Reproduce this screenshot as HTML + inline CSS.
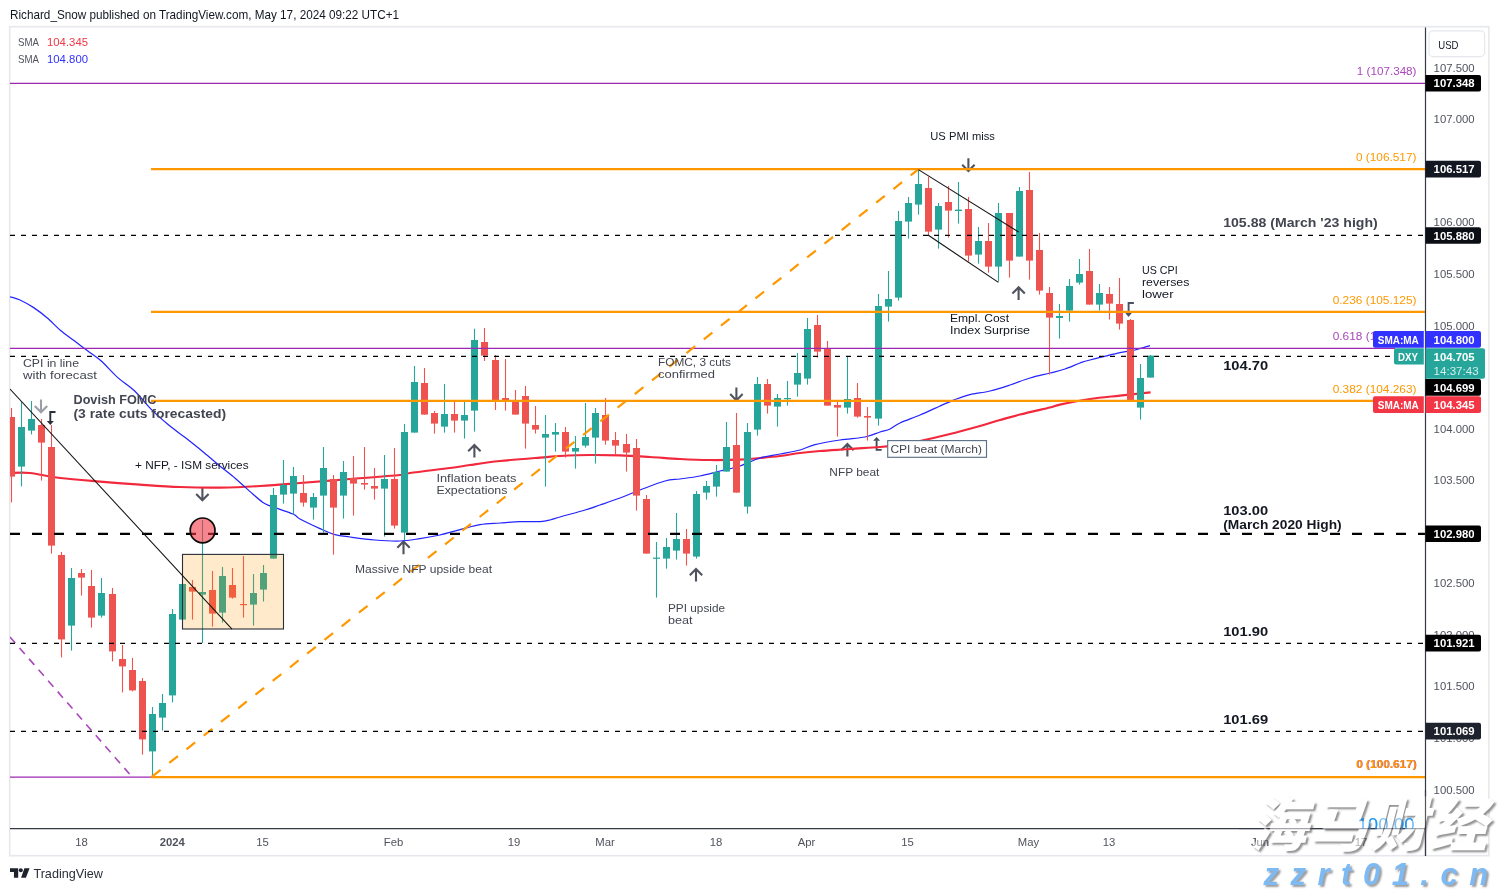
<!DOCTYPE html>
<html lang="en"><head><meta charset="utf-8"><title>DXY chart - TradingView</title>
<style>html,body{margin:0;padding:0;background:#fff;overflow:hidden}body{width:1499px;height:891px;position:relative}svg{display:block;will-change:transform;font-family:"Liberation Sans",sans-serif}text{white-space:pre}.wm{position:absolute;white-space:nowrap;font-style:italic;font-weight:900;line-height:1;font-family:"Liberation Sans","Noto Sans CJK SC",sans-serif}.wm1{left:1249px;top:796.5px;font-size:58px;color:#fff;letter-spacing:2px;text-shadow:2px 2px 2px rgba(95,95,95,.68)}.wm2{left:1263.5px;top:859px;font-size:31px;font-weight:bold;color:#7db9f2;letter-spacing:11.5px;text-shadow:2px 2px 2px rgba(90,90,90,.6)}</style>
</head><body>
<svg width="1499" height="891" viewBox="0 0 1499 891" style="position:absolute;left:0;top:0">
<defs><clipPath id="pane"><rect x="10" y="27.5" width="1415.5" height="801"/></clipPath><clipPath id="axisclip"><rect x="1425" y="27.5" width="64" height="801"/></clipPath></defs>
<rect width="1499" height="891" fill="#fff"/>
<rect x="9.7" y="26.7" width="1479.2" height="829" fill="none" stroke="#e6e8ee" stroke-width="1.6"/>
<g clip-path="url(#pane)">
<path d="M41 399.4 V412.0 M34.8 405.9 L41 412.2 L47.2 405.9" fill="none" stroke="#9b9ea6" stroke-width="2.1" stroke-linecap="butt" stroke-linejoin="miter"/>
<path d="M202.4 487.5 V500.1 M196.20000000000002 494.0 L202.4 500.3 L208.6 494.0" fill="none" stroke="#50535e" stroke-width="2.1" stroke-linecap="butt" stroke-linejoin="miter"/>
<path d="M474.4 457.6 V445 M468.2 451.2 L474.4 444.9 L480.59999999999997 451.2" fill="none" stroke="#50535e" stroke-width="2.1" stroke-linecap="butt" stroke-linejoin="miter"/>
<path d="M403.5 554.2 V541.6 M397.3 547.8000000000001 L403.5 541.5 L409.7 547.8000000000001" fill="none" stroke="#50535e" stroke-width="2.1" stroke-linecap="butt" stroke-linejoin="miter"/>
<path d="M736.4 387.6 V400.20000000000005 M730.1999999999999 394.1 L736.4 400.40000000000003 L742.6 394.1" fill="none" stroke="#50535e" stroke-width="2.1" stroke-linecap="butt" stroke-linejoin="miter"/>
<path d="M696 581.6 V569 M689.8 575.2 L696 568.9 L702.2 575.2" fill="none" stroke="#50535e" stroke-width="2.1" stroke-linecap="butt" stroke-linejoin="miter"/>
<path d="M847.4 456.6 V444 M841.1999999999999 450.2 L847.4 443.9 L853.6 450.2" fill="none" stroke="#50535e" stroke-width="2.1" stroke-linecap="butt" stroke-linejoin="miter"/>
<path d="M968.4 158.2 V170.79999999999998 M962.1999999999999 164.7 L968.4 171.0 L974.6 164.7" fill="none" stroke="#50535e" stroke-width="2.1" stroke-linecap="butt" stroke-linejoin="miter"/>
<path d="M1018.6 300.0 V287.4 M1012.4 293.59999999999997 L1018.6 287.29999999999995 L1024.8 293.59999999999997" fill="none" stroke="#50535e" stroke-width="2.1" stroke-linecap="butt" stroke-linejoin="miter"/>
<path d="M55.5 412 H50.3 V421.4" fill="none" stroke="#2a2e39" stroke-width="1.9"/><path d="M46.8 421 H53.8 L50.3 424.9 Z" fill="#2a2e39"/>
<path d="M881.7 449.9 H876.6 V440.4" fill="none" stroke="#434a58" stroke-width="1.9"/><path d="M873.1 440.8 H880.1 L876.6 437 Z" fill="#434a58"/>
<path d="M10.0 473.0 C13.3 473.0 21.7 472.2 30.0 473.0 C38.3 473.8 48.3 476.6 60.0 478.0 C71.7 479.4 86.7 480.5 100.0 481.6 C113.3 482.7 126.7 483.7 140.0 484.6 C153.3 485.5 166.7 486.5 180.0 487.0 C193.3 487.5 206.7 487.8 220.0 487.6 C233.3 487.4 246.7 486.8 260.0 486.0 C273.3 485.2 285.0 484.2 300.0 483.0 C315.0 481.8 333.3 480.3 350.0 479.0 C366.7 477.7 390.0 476.0 400.0 475.0 C410.0 474.0 401.7 474.2 410.0 473.0 C418.3 471.8 440.0 469.3 450.0 468.0 C460.0 466.7 461.7 466.2 470.0 465.0 C478.3 463.8 488.3 462.2 500.0 461.0 C511.7 459.8 530.0 458.4 540.0 457.6 C550.0 456.8 551.7 456.4 560.0 456.0 C568.3 455.6 580.0 455.1 590.0 455.0 C600.0 454.9 610.0 455.1 620.0 455.4 C630.0 455.7 640.0 456.4 650.0 457.0 C660.0 457.6 670.0 458.5 680.0 459.0 C690.0 459.5 700.0 459.9 710.0 460.0 C720.0 460.1 731.7 459.9 740.0 459.6 C748.3 459.3 753.3 458.6 760.0 458.0 C766.7 457.4 773.3 456.8 780.0 456.0 C786.7 455.2 793.3 453.8 800.0 453.0 C806.7 452.2 811.7 451.7 820.0 451.0 C828.3 450.3 840.0 449.7 850.0 449.0 C860.0 448.3 871.7 447.7 880.0 447.0 C888.3 446.3 893.3 445.6 900.0 444.6 C906.7 443.6 911.7 442.8 920.0 441.0 C928.3 439.2 940.0 436.5 950.0 434.0 C960.0 431.5 971.7 428.3 980.0 426.0 C988.3 423.7 993.3 421.9 1000.0 420.0 C1006.7 418.1 1011.7 416.6 1020.0 414.5 C1028.3 412.4 1043.3 409.1 1050.0 407.5 C1056.7 405.9 1053.3 406.0 1060.0 404.6 C1066.7 403.2 1080.0 400.5 1090.0 399.0 C1100.0 397.5 1109.9 396.7 1120.0 395.6 C1130.1 394.5 1145.5 392.9 1150.6 392.4" fill="none" stroke="#f2283c" stroke-width="2.2" stroke-linejoin="round"/>
<path d="M10.0 296.8 C11.7 297.3 16.1 298.2 20.0 300.0 C23.9 301.8 29.2 304.7 33.7 307.6 C38.2 310.6 42.5 313.9 47.0 317.7 C51.5 321.5 56.1 326.7 60.6 330.5 C65.1 334.3 69.5 337.2 74.0 340.6 C78.5 344.0 83.0 347.3 87.5 350.7 C92.0 354.1 96.0 356.3 101.0 360.8 C106.0 365.3 112.2 372.6 117.8 377.6 C123.4 382.6 129.1 385.7 134.7 391.0 C140.3 396.3 145.9 404.0 151.5 409.6 C157.1 415.2 162.8 420.1 168.4 424.8 C174.0 429.5 179.6 433.2 185.2 437.6 C190.8 442.0 196.4 446.4 202.0 451.0 C207.6 455.6 213.3 460.6 218.9 465.2 C224.5 469.8 230.1 473.9 235.7 478.7 C241.3 483.5 248.0 489.9 252.5 493.8 C257.0 497.7 259.8 500.2 262.6 502.2 C265.4 504.2 264.3 503.6 269.4 505.6 C274.5 507.6 287.9 511.8 293.0 514.0 C298.1 516.2 295.5 516.6 300.0 519.0 C304.5 521.4 314.2 526.0 320.0 528.6 C325.8 531.2 330.0 533.2 335.0 534.6 C340.0 536.0 343.3 536.1 350.0 537.0 C356.7 537.9 366.7 539.3 375.0 540.0 C383.3 540.7 392.5 541.2 400.0 541.0 C407.5 540.8 413.3 539.6 420.0 538.6 C426.7 537.6 433.3 536.5 440.0 535.0 C446.7 533.5 453.3 531.3 460.0 529.6 C466.7 527.9 473.3 525.7 480.0 524.6 C486.7 523.5 493.3 523.5 500.0 523.0 C506.7 522.5 513.3 521.8 520.0 521.6 C526.7 521.4 535.0 521.9 540.0 521.6 C545.0 521.3 546.7 520.8 550.0 520.0 C553.3 519.2 554.2 518.7 560.0 517.0 C565.8 515.3 578.3 512.0 585.0 510.0 C591.7 508.0 594.2 507.0 600.0 505.0 C605.8 503.0 613.3 500.5 620.0 498.0 C626.7 495.5 632.5 492.8 640.0 490.0 C647.5 487.2 658.3 482.8 665.0 481.0 C671.7 479.2 674.2 479.8 680.0 479.0 C685.8 478.2 693.3 477.3 700.0 476.0 C706.7 474.7 713.3 472.7 720.0 471.0 C726.7 469.3 733.3 468.2 740.0 466.0 C746.7 463.8 753.3 460.0 760.0 458.0 C766.7 456.0 773.3 455.3 780.0 454.0 C786.7 452.7 794.2 451.6 800.0 450.0 C805.8 448.4 808.3 446.3 815.0 444.6 C821.7 442.9 831.7 441.3 840.0 440.0 C848.3 438.7 858.3 438.3 865.0 437.0 C871.7 435.7 875.8 433.3 880.0 432.0 C884.2 430.7 886.7 430.5 890.0 429.0 C893.3 427.5 895.0 425.3 900.0 423.0 C905.0 420.7 913.3 417.8 920.0 415.0 C926.7 412.2 934.2 408.6 940.0 406.0 C945.8 403.4 950.0 401.5 955.0 399.6 C960.0 397.7 964.2 396.0 970.0 394.6 C975.8 393.2 983.3 392.6 990.0 391.0 C996.7 389.4 1003.3 387.2 1010.0 385.0 C1016.7 382.8 1023.3 380.0 1030.0 378.0 C1036.7 376.0 1044.2 374.5 1050.0 373.0 C1055.8 371.5 1060.0 370.7 1065.0 369.0 C1070.0 367.3 1075.8 364.5 1080.0 363.0 C1084.2 361.5 1083.3 361.7 1090.0 360.0 C1096.7 358.3 1112.5 354.3 1120.0 352.6 C1127.5 350.9 1130.0 351.2 1135.0 350.0 C1140.0 348.8 1147.5 346.3 1150.0 345.6" fill="none" stroke="#2424ff" stroke-width="1.25" stroke-linejoin="round"/>
<rect x="10.95" y="408" width="1.1" height="94.4" fill="#ef5350"/>
<rect x="8.00" y="417" width="7" height="59.6" fill="#ef5350"/>
<rect x="20.95" y="402" width="1.1" height="84.4" fill="#26a69a"/>
<rect x="18.00" y="427" width="7" height="39.6" fill="#26a69a"/>
<rect x="30.95" y="401" width="1.1" height="33.4" fill="#26a69a"/>
<rect x="28.00" y="419" width="7" height="11.6" fill="#26a69a"/>
<rect x="40.95" y="419" width="1.1" height="61.6" fill="#ef5350"/>
<rect x="38.00" y="425" width="7" height="17.6" fill="#ef5350"/>
<rect x="50.95" y="425" width="1.1" height="128.6" fill="#ef5350"/>
<rect x="48.00" y="447" width="7" height="98.6" fill="#ef5350"/>
<rect x="60.95" y="552" width="1.1" height="105.4" fill="#ef5350"/>
<rect x="58.00" y="555" width="7" height="84.4" fill="#ef5350"/>
<rect x="70.95" y="568" width="1.1" height="82.6" fill="#26a69a"/>
<rect x="68.00" y="578" width="7" height="47.6" fill="#26a69a"/>
<rect x="80.95" y="569" width="1.1" height="26.6" fill="#ef5350"/>
<rect x="78.00" y="573" width="7" height="4.6" fill="#ef5350"/>
<rect x="90.95" y="570" width="1.1" height="57.6" fill="#ef5350"/>
<rect x="88.00" y="586" width="7" height="31.6" fill="#ef5350"/>
<rect x="100.95" y="578" width="1.1" height="39.6" fill="#26a69a"/>
<rect x="98.00" y="593" width="7" height="22.6" fill="#26a69a"/>
<rect x="111.95" y="588" width="1.1" height="73.4" fill="#ef5350"/>
<rect x="109.00" y="594" width="7" height="57.4" fill="#ef5350"/>
<rect x="121.95" y="645" width="1.1" height="47.4" fill="#ef5350"/>
<rect x="119.00" y="659" width="7" height="7.4" fill="#ef5350"/>
<rect x="131.95" y="658" width="1.1" height="33.4" fill="#ef5350"/>
<rect x="129.00" y="670" width="7" height="20.4" fill="#ef5350"/>
<rect x="141.95" y="678" width="1.1" height="76.6" fill="#ef5350"/>
<rect x="139.00" y="681" width="7" height="58.4" fill="#ef5350"/>
<rect x="151.95" y="707" width="1.1" height="69.6" fill="#26a69a"/>
<rect x="149.00" y="714" width="7" height="37.4" fill="#26a69a"/>
<rect x="161.95" y="694" width="1.1" height="36.6" fill="#26a69a"/>
<rect x="159.00" y="703" width="7" height="14.6" fill="#26a69a"/>
<rect x="171.95" y="609" width="1.1" height="93.4" fill="#26a69a"/>
<rect x="169.00" y="614" width="7" height="81.4" fill="#26a69a"/>
<rect x="181.95" y="584" width="1.1" height="35.6" fill="#26a69a"/>
<rect x="179.00" y="584" width="7" height="35.6" fill="#26a69a"/>
<rect x="191.95" y="580" width="1.1" height="39.6" fill="#ef5350"/>
<rect x="189.00" y="587" width="7" height="4.6" fill="#ef5350"/>
<rect x="201.95" y="520" width="1.1" height="123.0" fill="#26a69a"/>
<rect x="199.00" y="592" width="7" height="2.6" fill="#26a69a"/>
<rect x="211.95" y="571" width="1.1" height="55.6" fill="#ef5350"/>
<rect x="209.00" y="590" width="7" height="23.6" fill="#ef5350"/>
<rect x="221.95" y="567" width="1.1" height="55.6" fill="#26a69a"/>
<rect x="219.00" y="576" width="7" height="36.6" fill="#26a69a"/>
<rect x="231.95" y="568" width="1.1" height="30.6" fill="#ef5350"/>
<rect x="229.00" y="585" width="7" height="12.6" fill="#ef5350"/>
<rect x="242.95" y="556" width="1.1" height="61.6" fill="#ef5350"/>
<rect x="240.00" y="604" width="7" height="1.2" fill="#ef5350"/>
<rect x="252.95" y="574" width="1.1" height="51.6" fill="#26a69a"/>
<rect x="250.00" y="593" width="7" height="11.6" fill="#26a69a"/>
<rect x="262.95" y="565" width="1.1" height="36.6" fill="#26a69a"/>
<rect x="260.00" y="573" width="7" height="16.6" fill="#26a69a"/>
<rect x="272.95" y="488" width="1.1" height="70.6" fill="#26a69a"/>
<rect x="270.00" y="495" width="7" height="63.6" fill="#26a69a"/>
<rect x="282.95" y="460" width="1.1" height="43.6" fill="#26a69a"/>
<rect x="280.00" y="485" width="7" height="9.6" fill="#26a69a"/>
<rect x="292.95" y="467" width="1.1" height="47.6" fill="#26a69a"/>
<rect x="290.00" y="476" width="7" height="17.6" fill="#26a69a"/>
<rect x="302.95" y="475" width="1.1" height="31.6" fill="#ef5350"/>
<rect x="300.00" y="493" width="7" height="9.6" fill="#ef5350"/>
<rect x="312.95" y="493" width="1.1" height="26.6" fill="#26a69a"/>
<rect x="310.00" y="497" width="7" height="10.6" fill="#26a69a"/>
<rect x="322.95" y="447" width="1.1" height="85.6" fill="#26a69a"/>
<rect x="320.00" y="468" width="7" height="27.6" fill="#26a69a"/>
<rect x="332.95" y="475" width="1.1" height="79.6" fill="#ef5350"/>
<rect x="330.00" y="479" width="7" height="28.6" fill="#ef5350"/>
<rect x="342.95" y="461" width="1.1" height="57.6" fill="#26a69a"/>
<rect x="340.00" y="472" width="7" height="23.6" fill="#26a69a"/>
<rect x="352.95" y="456" width="1.1" height="59.6" fill="#ef5350"/>
<rect x="350.00" y="478" width="7" height="5.6" fill="#ef5350"/>
<rect x="363.95" y="447" width="1.1" height="42.6" fill="#ef5350"/>
<rect x="361.00" y="483" width="7" height="1.6" fill="#ef5350"/>
<rect x="373.95" y="468" width="1.1" height="31.6" fill="#ef5350"/>
<rect x="371.00" y="486" width="7" height="2.6" fill="#ef5350"/>
<rect x="383.95" y="455" width="1.1" height="81.6" fill="#26a69a"/>
<rect x="381.00" y="479" width="7" height="9.6" fill="#26a69a"/>
<rect x="393.95" y="448" width="1.1" height="80.6" fill="#ef5350"/>
<rect x="391.00" y="479" width="7" height="46.6" fill="#ef5350"/>
<rect x="403.95" y="424" width="1.1" height="116.0" fill="#26a69a"/>
<rect x="401.00" y="432" width="7" height="100.6" fill="#26a69a"/>
<rect x="413.95" y="366" width="1.1" height="66.6" fill="#26a69a"/>
<rect x="411.00" y="382" width="7" height="50.6" fill="#26a69a"/>
<rect x="423.95" y="368" width="1.1" height="46.6" fill="#ef5350"/>
<rect x="421.00" y="383" width="7" height="31.6" fill="#ef5350"/>
<rect x="433.95" y="411" width="1.1" height="22.6" fill="#ef5350"/>
<rect x="431.00" y="413" width="7" height="10.6" fill="#ef5350"/>
<rect x="443.95" y="384" width="1.1" height="48.6" fill="#26a69a"/>
<rect x="441.00" y="414" width="7" height="12.6" fill="#26a69a"/>
<rect x="453.95" y="402" width="1.1" height="30.6" fill="#ef5350"/>
<rect x="451.00" y="414" width="7" height="6.6" fill="#ef5350"/>
<rect x="463.95" y="402" width="1.1" height="36.6" fill="#26a69a"/>
<rect x="461.00" y="415" width="7" height="5.6" fill="#26a69a"/>
<rect x="473.95" y="328.7" width="1.1" height="102.9" fill="#26a69a"/>
<rect x="471.00" y="340" width="7" height="70.6" fill="#26a69a"/>
<rect x="483.95" y="328" width="1.1" height="33.0" fill="#ef5350"/>
<rect x="481.00" y="342" width="7" height="13.6" fill="#ef5350"/>
<rect x="494.95" y="355" width="1.1" height="55.0" fill="#ef5350"/>
<rect x="492.00" y="360" width="7" height="40.4" fill="#ef5350"/>
<rect x="504.95" y="359" width="1.1" height="51.6" fill="#ef5350"/>
<rect x="502.00" y="398" width="7" height="2.0" fill="#ef5350"/>
<rect x="514.95" y="390" width="1.1" height="24.6" fill="#ef5350"/>
<rect x="512.00" y="401" width="7" height="13.6" fill="#ef5350"/>
<rect x="524.95" y="386" width="1.1" height="62.6" fill="#ef5350"/>
<rect x="522.00" y="396" width="7" height="27.6" fill="#ef5350"/>
<rect x="534.95" y="406" width="1.1" height="27.6" fill="#ef5350"/>
<rect x="532.00" y="425" width="7" height="4.6" fill="#ef5350"/>
<rect x="544.95" y="415" width="1.1" height="71.6" fill="#26a69a"/>
<rect x="542.00" y="434" width="7" height="3.6" fill="#26a69a"/>
<rect x="554.95" y="423" width="1.1" height="28.6" fill="#26a69a"/>
<rect x="552.00" y="432" width="7" height="2.6" fill="#26a69a"/>
<rect x="564.95" y="427" width="1.1" height="30.6" fill="#ef5350"/>
<rect x="562.00" y="432" width="7" height="19.6" fill="#ef5350"/>
<rect x="574.95" y="436" width="1.1" height="32.6" fill="#26a69a"/>
<rect x="572.00" y="448" width="7" height="3.6" fill="#26a69a"/>
<rect x="584.95" y="403" width="1.1" height="44.6" fill="#26a69a"/>
<rect x="582.00" y="437" width="7" height="8.6" fill="#26a69a"/>
<rect x="594.95" y="408" width="1.1" height="55.6" fill="#26a69a"/>
<rect x="592.00" y="413" width="7" height="24.6" fill="#26a69a"/>
<rect x="604.95" y="398" width="1.1" height="46.6" fill="#ef5350"/>
<rect x="602.00" y="415" width="7" height="25.6" fill="#ef5350"/>
<rect x="614.95" y="432" width="1.1" height="22.6" fill="#ef5350"/>
<rect x="612.00" y="440" width="7" height="5.6" fill="#ef5350"/>
<rect x="625.95" y="434" width="1.1" height="37.6" fill="#ef5350"/>
<rect x="623.00" y="444" width="7" height="8.6" fill="#ef5350"/>
<rect x="635.95" y="439" width="1.1" height="71.6" fill="#ef5350"/>
<rect x="633.00" y="448" width="7" height="47.6" fill="#ef5350"/>
<rect x="645.95" y="495" width="1.1" height="58.6" fill="#ef5350"/>
<rect x="643.00" y="499" width="7" height="54.6" fill="#ef5350"/>
<rect x="655.95" y="542" width="1.1" height="55.6" fill="#26a69a"/>
<rect x="653.00" y="557.6" width="7" height="1.2" fill="#26a69a"/>
<rect x="665.95" y="538" width="1.1" height="30.6" fill="#26a69a"/>
<rect x="663.00" y="547" width="7" height="11.6" fill="#26a69a"/>
<rect x="675.95" y="513" width="1.1" height="46.6" fill="#26a69a"/>
<rect x="673.00" y="539" width="7" height="11.6" fill="#26a69a"/>
<rect x="685.95" y="529" width="1.1" height="36.6" fill="#ef5350"/>
<rect x="683.00" y="539" width="7" height="14.6" fill="#ef5350"/>
<rect x="695.95" y="491" width="1.1" height="67.6" fill="#26a69a"/>
<rect x="693.00" y="494" width="7" height="62.6" fill="#26a69a"/>
<rect x="705.95" y="481" width="1.1" height="18.6" fill="#26a69a"/>
<rect x="703.00" y="486" width="7" height="6.6" fill="#26a69a"/>
<rect x="715.95" y="465" width="1.1" height="31.6" fill="#26a69a"/>
<rect x="713.00" y="472" width="7" height="14.6" fill="#26a69a"/>
<rect x="725.95" y="422" width="1.1" height="49.6" fill="#26a69a"/>
<rect x="723.00" y="447" width="7" height="24.6" fill="#26a69a"/>
<rect x="735.95" y="413" width="1.1" height="79.6" fill="#ef5350"/>
<rect x="733.00" y="445" width="7" height="47.6" fill="#ef5350"/>
<rect x="746.95" y="423" width="1.1" height="90.6" fill="#26a69a"/>
<rect x="744.00" y="432" width="7" height="74.6" fill="#26a69a"/>
<rect x="756.95" y="377" width="1.1" height="58.6" fill="#26a69a"/>
<rect x="754.00" y="384" width="7" height="45.6" fill="#26a69a"/>
<rect x="766.95" y="379" width="1.1" height="34.6" fill="#ef5350"/>
<rect x="764.00" y="384" width="7" height="21.6" fill="#ef5350"/>
<rect x="776.95" y="394" width="1.1" height="32.6" fill="#26a69a"/>
<rect x="774.00" y="398" width="7" height="8.6" fill="#26a69a"/>
<rect x="786.95" y="381" width="1.1" height="24.6" fill="#26a69a"/>
<rect x="784.00" y="398" width="7" height="1.2" fill="#26a69a"/>
<rect x="796.95" y="353" width="1.1" height="43.6" fill="#26a69a"/>
<rect x="794.00" y="373" width="7" height="11.6" fill="#26a69a"/>
<rect x="806.95" y="318" width="1.1" height="66.6" fill="#26a69a"/>
<rect x="804.00" y="329" width="7" height="49.6" fill="#26a69a"/>
<rect x="816.95" y="315" width="1.1" height="42.6" fill="#ef5350"/>
<rect x="814.00" y="325" width="7" height="26.6" fill="#ef5350"/>
<rect x="826.95" y="341" width="1.1" height="64.6" fill="#ef5350"/>
<rect x="824.00" y="348.6" width="7" height="57.0" fill="#ef5350"/>
<rect x="836.95" y="402" width="1.1" height="34.6" fill="#ef5350"/>
<rect x="834.00" y="405" width="7" height="2.6" fill="#ef5350"/>
<rect x="846.95" y="356" width="1.1" height="57.6" fill="#26a69a"/>
<rect x="844.00" y="399" width="7" height="8.6" fill="#26a69a"/>
<rect x="856.95" y="383" width="1.1" height="34.6" fill="#ef5350"/>
<rect x="854.00" y="398" width="7" height="18.6" fill="#ef5350"/>
<rect x="866.95" y="407" width="1.1" height="33.6" fill="#ef5350"/>
<rect x="864.00" y="416" width="7" height="1.6" fill="#ef5350"/>
<rect x="877.95" y="294" width="1.1" height="131.6" fill="#26a69a"/>
<rect x="875.00" y="306" width="7" height="112.6" fill="#26a69a"/>
<rect x="887.95" y="271" width="1.1" height="50.6" fill="#26a69a"/>
<rect x="885.00" y="299" width="7" height="7.6" fill="#26a69a"/>
<rect x="897.95" y="211" width="1.1" height="89.6" fill="#26a69a"/>
<rect x="895.00" y="221" width="7" height="76.6" fill="#26a69a"/>
<rect x="907.95" y="197" width="1.1" height="41.6" fill="#26a69a"/>
<rect x="905.00" y="203" width="7" height="18.6" fill="#26a69a"/>
<rect x="917.95" y="170" width="1.1" height="44.6" fill="#26a69a"/>
<rect x="915.00" y="184" width="7" height="20.6" fill="#26a69a"/>
<rect x="927.95" y="177" width="1.1" height="58.6" fill="#ef5350"/>
<rect x="925.00" y="188" width="7" height="43.6" fill="#ef5350"/>
<rect x="937.95" y="203" width="1.1" height="45.6" fill="#26a69a"/>
<rect x="935.00" y="206" width="7" height="23.6" fill="#26a69a"/>
<rect x="947.95" y="186" width="1.1" height="51.6" fill="#ef5350"/>
<rect x="945.00" y="202" width="7" height="8.6" fill="#ef5350"/>
<rect x="957.95" y="182" width="1.1" height="41.6" fill="#26a69a"/>
<rect x="955.00" y="209.6" width="7" height="1.4" fill="#26a69a"/>
<rect x="967.95" y="197" width="1.1" height="64.6" fill="#ef5350"/>
<rect x="965.00" y="209" width="7" height="46.6" fill="#ef5350"/>
<rect x="977.95" y="227" width="1.1" height="36.6" fill="#26a69a"/>
<rect x="975.00" y="241" width="7" height="13.6" fill="#26a69a"/>
<rect x="987.95" y="223" width="1.1" height="49.6" fill="#ef5350"/>
<rect x="985.00" y="241" width="7" height="25.6" fill="#ef5350"/>
<rect x="997.95" y="203" width="1.1" height="78.6" fill="#26a69a"/>
<rect x="995.00" y="213" width="7" height="53.6" fill="#26a69a"/>
<rect x="1008.95" y="213" width="1.1" height="64.6" fill="#ef5350"/>
<rect x="1006.00" y="213" width="7" height="47.6" fill="#ef5350"/>
<rect x="1018.95" y="187" width="1.1" height="69.6" fill="#26a69a"/>
<rect x="1016.00" y="191" width="7" height="65.6" fill="#26a69a"/>
<rect x="1028.95" y="172" width="1.1" height="107.6" fill="#ef5350"/>
<rect x="1026.00" y="190" width="7" height="70.6" fill="#ef5350"/>
<rect x="1038.95" y="233" width="1.1" height="61.6" fill="#ef5350"/>
<rect x="1036.00" y="250" width="7" height="40.6" fill="#ef5350"/>
<rect x="1048.95" y="287" width="1.1" height="87.6" fill="#ef5350"/>
<rect x="1046.00" y="293" width="7" height="24.6" fill="#ef5350"/>
<rect x="1058.95" y="304" width="1.1" height="34.6" fill="#26a69a"/>
<rect x="1056.00" y="316" width="7" height="2.0" fill="#26a69a"/>
<rect x="1068.95" y="279" width="1.1" height="42.6" fill="#26a69a"/>
<rect x="1066.00" y="286" width="7" height="24.6" fill="#26a69a"/>
<rect x="1078.95" y="259" width="1.1" height="25.6" fill="#26a69a"/>
<rect x="1076.00" y="274" width="7" height="8.6" fill="#26a69a"/>
<rect x="1088.95" y="249" width="1.1" height="55.6" fill="#ef5350"/>
<rect x="1086.00" y="271" width="7" height="33.6" fill="#ef5350"/>
<rect x="1098.95" y="284" width="1.1" height="26.6" fill="#26a69a"/>
<rect x="1096.00" y="293" width="7" height="11.6" fill="#26a69a"/>
<rect x="1108.95" y="287" width="1.1" height="32.6" fill="#ef5350"/>
<rect x="1106.00" y="294" width="7" height="9.6" fill="#ef5350"/>
<rect x="1118.95" y="278" width="1.1" height="51.6" fill="#ef5350"/>
<rect x="1116.00" y="304" width="7" height="19.6" fill="#ef5350"/>
<rect x="1129.95" y="319" width="1.1" height="81.6" fill="#ef5350"/>
<rect x="1127.00" y="320" width="7" height="80.6" fill="#ef5350"/>
<rect x="1139.95" y="364" width="1.1" height="55.6" fill="#26a69a"/>
<rect x="1137.00" y="378" width="7" height="29.6" fill="#26a69a"/>
<rect x="1149.95" y="355" width="1.1" height="22.6" fill="#26a69a"/>
<rect x="1147.00" y="355.6" width="7" height="22.0" fill="#26a69a"/>
<rect x="182.5" y="554.4" width="101" height="74.6" fill="#ff9800" fill-opacity="0.2" stroke="#2a2e39" stroke-width="1.1"/>
<line x1="10" y1="83.4" x2="1425" y2="83.4" stroke="#9c27b0" stroke-width="1.4"/>
<line x1="10" y1="348.4" x2="1395" y2="348.4" stroke="#9c27b0" stroke-width="1.3"/>
<line x1="10" y1="777.2" x2="152" y2="777.2" stroke="#9c27b0" stroke-width="1.3"/>
<line x1="10" y1="637" x2="129.5" y2="774" stroke="#ab47bc" stroke-width="1.6" stroke-dasharray="8 6.5"/>
<path d="M1133.9 303 H1128.6 V313" fill="none" stroke="#4a5068" stroke-width="1.9"/><path d="M1124.9 312.4 H1132.2 L1128.5 317 Z" fill="#4a5068"/>
<line x1="151" y1="169.1" x2="1425" y2="169.1" stroke="#ff9800" stroke-width="2.2"/>
<line x1="151" y1="311.8" x2="1425" y2="311.8" stroke="#ff9800" stroke-width="2.2"/>
<line x1="151" y1="400.8" x2="1374" y2="400.8" stroke="#ff9800" stroke-width="2.2"/>
<line x1="151" y1="777.2" x2="1425" y2="777.2" stroke="#ff9800" stroke-width="2.2"/>
<line x1="152" y1="776.6" x2="918" y2="169.6" stroke="#ff9800" stroke-width="2.2" stroke-dasharray="11 11"/>
<line x1="10" y1="235.4" x2="1425" y2="235.4" stroke="#000" stroke-width="1.3" stroke-dasharray="5 6"/>
<line x1="10" y1="356.4" x2="1425" y2="356.4" stroke="#000" stroke-width="1.3" stroke-dasharray="5 6"/>
<line x1="10" y1="643.3" x2="1425" y2="643.3" stroke="#000" stroke-width="1.3" stroke-dasharray="5 6"/>
<line x1="10" y1="731.3" x2="1425" y2="731.3" stroke="#000" stroke-width="1.3" stroke-dasharray="5 6"/>
<line x1="10" y1="533.8" x2="1425" y2="533.8" stroke="#000" stroke-width="2.2" stroke-dasharray="10 12"/>
<line x1="10" y1="389" x2="232" y2="629.2" stroke="#111" stroke-width="1.05"/>
<line x1="918.4" y1="169.6" x2="1018.6" y2="232" stroke="#111" stroke-width="1.1"/>
<line x1="928" y1="235" x2="998.4" y2="282.4" stroke="#111" stroke-width="1.1"/>
<circle cx="202.6" cy="530.4" r="12.4" fill="#f23645" fill-opacity="0.6" stroke="#0a0a0a" stroke-width="1.7"/>
<text x="23" y="366.7" font-size="11.3" fill="#434651" font-weight="normal" text-anchor="start" textLength="56" lengthAdjust="spacingAndGlyphs">CPI in line</text>
<text x="23" y="378.5" font-size="11.3" fill="#434651" font-weight="normal" text-anchor="start" textLength="74" lengthAdjust="spacingAndGlyphs">with forecast</text>
<text x="73.5" y="404.4" font-size="12.8" fill="#434651" font-weight="bold" text-anchor="start" textLength="83" lengthAdjust="spacingAndGlyphs">Dovish FOMC</text>
<text x="73.5" y="418.4" font-size="12.8" fill="#434651" font-weight="bold" text-anchor="start" textLength="152.6" lengthAdjust="spacingAndGlyphs">(3 rate cuts forecasted)</text>
<text x="135" y="469" font-size="11.3" fill="#131722" font-weight="normal" text-anchor="start" textLength="113.6" lengthAdjust="spacingAndGlyphs">+ NFP, - ISM services</text>
<text x="355" y="573" font-size="11.3" fill="#434651" font-weight="normal" text-anchor="start" textLength="137" lengthAdjust="spacingAndGlyphs">Massive NFP upside beat</text>
<text x="436.4" y="481.6" font-size="11.3" fill="#434651" font-weight="normal" text-anchor="start" textLength="80" lengthAdjust="spacingAndGlyphs">Inflation beats</text>
<text x="436.4" y="493.6" font-size="11.3" fill="#434651" font-weight="normal" text-anchor="start" textLength="71" lengthAdjust="spacingAndGlyphs">Expectations</text>
<text x="658" y="365.6" font-size="11.3" fill="#434651" font-weight="normal" text-anchor="start" textLength="73" lengthAdjust="spacingAndGlyphs">FOMC, 3 cuts</text>
<text x="658" y="377.6" font-size="11.3" fill="#434651" font-weight="normal" text-anchor="start" textLength="57" lengthAdjust="spacingAndGlyphs">confirmed</text>
<text x="668" y="611.6" font-size="11.3" fill="#434651" font-weight="normal" text-anchor="start" textLength="57" lengthAdjust="spacingAndGlyphs">PPI upside</text>
<text x="668" y="623.6" font-size="11.3" fill="#434651" font-weight="normal" text-anchor="start" textLength="24.6" lengthAdjust="spacingAndGlyphs">beat</text>
<text x="829.3" y="475.8" font-size="11.3" fill="#434651" font-weight="normal" text-anchor="start" textLength="50" lengthAdjust="spacingAndGlyphs">NFP beat</text>
<text x="930.3" y="139.7" font-size="11.3" fill="#131722" font-weight="normal" text-anchor="start" textLength="64.6" lengthAdjust="spacingAndGlyphs">US PMI miss</text>
<text x="950" y="322" font-size="11.3" fill="#131722" font-weight="normal" text-anchor="start" textLength="59" lengthAdjust="spacingAndGlyphs">Empl. Cost</text>
<text x="950" y="333.6" font-size="11.3" fill="#131722" font-weight="normal" text-anchor="start" textLength="80" lengthAdjust="spacingAndGlyphs">Index Surprise</text>
<text x="1142" y="273.5" font-size="11.3" fill="#131722" font-weight="normal" text-anchor="start" textLength="35.6" lengthAdjust="spacingAndGlyphs">US CPI</text>
<text x="1142" y="285.8" font-size="11.3" fill="#131722" font-weight="normal" text-anchor="start" textLength="47.4" lengthAdjust="spacingAndGlyphs">reverses</text>
<text x="1142" y="297.5" font-size="11.3" fill="#131722" font-weight="normal" text-anchor="start" textLength="31.6" lengthAdjust="spacingAndGlyphs">lower</text>
<rect x="887.7" y="440.6" width="98.8" height="16.7" fill="#fff" stroke="#5d7186" stroke-width="1.15"/>
<text x="890.4" y="453" font-size="11.3" fill="#434651" font-weight="normal" text-anchor="start" textLength="91.6" lengthAdjust="spacingAndGlyphs">CPI beat (March)</text>
<text x="1223.2" y="227.3" font-size="12.8" fill="#434651" font-weight="bold" text-anchor="start" textLength="154.6" lengthAdjust="spacingAndGlyphs">105.88 (March '23 high)</text>
<text x="1223.2" y="370.2" font-size="12.8" fill="#131722" font-weight="bold" text-anchor="start" textLength="45" lengthAdjust="spacingAndGlyphs">104.70</text>
<text x="1223.2" y="514.7" font-size="12.8" fill="#131722" font-weight="bold" text-anchor="start" textLength="45" lengthAdjust="spacingAndGlyphs">103.00</text>
<text x="1223.2" y="528.5" font-size="12.8" fill="#131722" font-weight="bold" text-anchor="start" textLength="118.5" lengthAdjust="spacingAndGlyphs">(March 2020 High)</text>
<text x="1223.2" y="636.3" font-size="12.8" fill="#131722" font-weight="bold" text-anchor="start" textLength="45" lengthAdjust="spacingAndGlyphs">101.90</text>
<text x="1223.2" y="724.1" font-size="12.8" fill="#131722" font-weight="bold" text-anchor="start" textLength="45" lengthAdjust="spacingAndGlyphs">101.69</text>
<text x="1416.5" y="74.5" font-size="11.3" fill="#ab47bc" font-weight="normal" text-anchor="end" textLength="59.7" lengthAdjust="spacingAndGlyphs">1 (107.348)</text>
<text x="1416.5" y="160.6" font-size="11.3" fill="#ff9800" font-weight="normal" text-anchor="end" textLength="60.6" lengthAdjust="spacingAndGlyphs">0 (106.517)</text>
<text x="1416.5" y="304.2" font-size="11.3" fill="#ff9800" font-weight="normal" text-anchor="end" textLength="83.8" lengthAdjust="spacingAndGlyphs">0.236 (105.125)</text>
<text x="1332.7" y="340" font-size="11.3" fill="#ab47bc" font-weight="normal" text-anchor="start" textLength="83.8" lengthAdjust="spacingAndGlyphs">0.618 (104.777)</text>
<text x="1416.5" y="392.8" font-size="11.3" fill="#ff9800" font-weight="normal" text-anchor="end" textLength="83.8" lengthAdjust="spacingAndGlyphs">0.382 (104.263)</text>
<text x="1417" y="768.4" font-size="11.3" fill="#ab47bc" font-weight="bold" text-anchor="end" textLength="60.6" lengthAdjust="spacingAndGlyphs">0 (100.617)</text>
<text x="1416.5" y="768.4" font-size="11.3" fill="#ff9800" font-weight="bold" text-anchor="end" textLength="60.6" lengthAdjust="spacingAndGlyphs">0 (100.617)</text>
<text x="1357.5" y="830.6" font-size="18.6" fill="#2196f3" font-weight="normal" text-anchor="start" textLength="57" lengthAdjust="spacingAndGlyphs">100.00</text>
</g>
<text x="18" y="45.8" font-size="11.3" fill="#50535e" font-weight="normal" text-anchor="start" textLength="21" lengthAdjust="spacingAndGlyphs">SMA</text>
<text x="47" y="45.8" font-size="11.3" fill="#f23645" font-weight="normal" text-anchor="start" textLength="41" lengthAdjust="spacingAndGlyphs">104.345</text>
<text x="18" y="63" font-size="11.3" fill="#50535e" font-weight="normal" text-anchor="start" textLength="21" lengthAdjust="spacingAndGlyphs">SMA</text>
<text x="47" y="63" font-size="11.3" fill="#3232ff" font-weight="normal" text-anchor="start" textLength="41" lengthAdjust="spacingAndGlyphs">104.800</text>
<text x="10" y="19.2" font-size="12.6" fill="#131722" font-weight="normal" text-anchor="start" textLength="389" lengthAdjust="spacingAndGlyphs">Richard_Snow published on TradingView.com, May 17, 2024 09:22 UTC+1</text>
<line x1="1425.5" y1="27.5" x2="1425.5" y2="856" stroke="#363a45" stroke-width="1.2"/>
<line x1="10" y1="828.6" x2="1425.5" y2="828.6" stroke="#363a45" stroke-width="1.2"/>
<g clip-path="url(#axisclip)">
<text x="1433.6" y="71.8" font-size="11.3" fill="#50535e" font-weight="normal" text-anchor="start" textLength="41" lengthAdjust="spacingAndGlyphs">107.500</text>
<text x="1433.6" y="123.3" font-size="11.3" fill="#50535e" font-weight="normal" text-anchor="start" textLength="41" lengthAdjust="spacingAndGlyphs">107.000</text>
<text x="1433.6" y="226.4" font-size="11.3" fill="#50535e" font-weight="normal" text-anchor="start" textLength="41" lengthAdjust="spacingAndGlyphs">106.000</text>
<text x="1433.6" y="278.0" font-size="11.3" fill="#50535e" font-weight="normal" text-anchor="start" textLength="41" lengthAdjust="spacingAndGlyphs">105.500</text>
<text x="1433.6" y="329.6" font-size="11.3" fill="#50535e" font-weight="normal" text-anchor="start" textLength="41" lengthAdjust="spacingAndGlyphs">105.000</text>
<text x="1433.6" y="432.6" font-size="11.3" fill="#50535e" font-weight="normal" text-anchor="start" textLength="41" lengthAdjust="spacingAndGlyphs">104.000</text>
<text x="1433.6" y="484.2" font-size="11.3" fill="#50535e" font-weight="normal" text-anchor="start" textLength="41" lengthAdjust="spacingAndGlyphs">103.500</text>
<text x="1433.6" y="587.3" font-size="11.3" fill="#50535e" font-weight="normal" text-anchor="start" textLength="41" lengthAdjust="spacingAndGlyphs">102.500</text>
<text x="1433.6" y="638.9" font-size="11.3" fill="#50535e" font-weight="normal" text-anchor="start" textLength="41" lengthAdjust="spacingAndGlyphs">102.000</text>
<text x="1433.6" y="690.4" font-size="11.3" fill="#50535e" font-weight="normal" text-anchor="start" textLength="41" lengthAdjust="spacingAndGlyphs">101.500</text>
<text x="1433.6" y="742.0" font-size="11.3" fill="#50535e" font-weight="normal" text-anchor="start" textLength="41" lengthAdjust="spacingAndGlyphs">101.000</text>
<text x="1433.6" y="793.5" font-size="11.3" fill="#50535e" font-weight="normal" text-anchor="start" textLength="41" lengthAdjust="spacingAndGlyphs">100.500</text>
</g>
<rect x="1429" y="30.8" width="55.6" height="25.8" rx="4" fill="#fff" stroke="#e6e8ee" stroke-width="1.2"/>
<text x="1438.3" y="48.7" font-size="11.3" fill="#131722" font-weight="normal" text-anchor="start" textLength="20.2" lengthAdjust="spacingAndGlyphs">USD</text>
<path d="M1425.5 74.9 H1479 a2 2 0 0 1 2 2 V89.6 a2 2 0 0 1 -2 2 H1425.5 Z" fill="#000"/>
<text x="1433.6" y="87.3" font-size="11.3" fill="#fff" font-weight="bold" text-anchor="start" textLength="41" lengthAdjust="spacingAndGlyphs">107.348</text>
<path d="M1425.5 160.8 H1479 a2 2 0 0 1 2 2 V175.5 a2 2 0 0 1 -2 2 H1425.5 Z" fill="#131722"/>
<text x="1433.6" y="173.3" font-size="11.3" fill="#fff" font-weight="bold" text-anchor="start" textLength="41" lengthAdjust="spacingAndGlyphs">106.517</text>
<path d="M1425.5 227.2 H1479 a2 2 0 0 1 2 2 V241.8 a2 2 0 0 1 -2 2 H1425.5 Z" fill="#0c0e15"/>
<text x="1433.6" y="239.6" font-size="11.3" fill="#fff" font-weight="bold" text-anchor="start" textLength="41" lengthAdjust="spacingAndGlyphs">105.880</text>
<path d="M1425.5 525.4 H1479 a2 2 0 0 1 2 2 V540.1 a2 2 0 0 1 -2 2 H1425.5 Z" fill="#000"/>
<text x="1433.6" y="537.8" font-size="11.3" fill="#fff" font-weight="bold" text-anchor="start" textLength="41" lengthAdjust="spacingAndGlyphs">102.980</text>
<path d="M1425.5 634.8 H1479 a2 2 0 0 1 2 2 V649.5 a2 2 0 0 1 -2 2 H1425.5 Z" fill="#000"/>
<text x="1433.6" y="647.2" font-size="11.3" fill="#fff" font-weight="bold" text-anchor="start" textLength="41" lengthAdjust="spacingAndGlyphs">101.921</text>
<path d="M1425.5 722.8 H1479 a2 2 0 0 1 2 2 V737.5 a2 2 0 0 1 -2 2 H1425.5 Z" fill="#1e222d"/>
<text x="1433.6" y="735.2" font-size="11.3" fill="#fff" font-weight="bold" text-anchor="start" textLength="41" lengthAdjust="spacingAndGlyphs">101.069</text>
<path d="M1425.5 331.1 H1479 a2 2 0 0 1 2 2 V345.8 a2 2 0 0 1 -2 2 H1425.5 Z" fill="#3232ff"/>
<text x="1433.6" y="343.6" font-size="11.3" fill="#fff" font-weight="bold" text-anchor="start" textLength="41" lengthAdjust="spacingAndGlyphs">104.800</text>
<path d="M1423.8 331.1 H1375 a2 2 0 0 0 -2 2 V345.8 a2 2 0 0 0 2 2 H1423.8 Z" fill="#3232ff"/>
<text x="1377.8" y="343.6" font-size="11.3" fill="#fff" font-weight="bold" text-anchor="start" textLength="41" lengthAdjust="spacingAndGlyphs">SMA:MA</text>
<path d="M1425.5 348.2 H1483 a2 2 0 0 1 2 2 V376.8 a2 2 0 0 1 -2 2 H1425.5 Z" fill="#26a69a"/>
<text x="1433.6" y="360.6" font-size="11.3" fill="#fff" font-weight="bold" text-anchor="start" textLength="41" lengthAdjust="spacingAndGlyphs">104.705</text>
<text x="1433.6" y="375" font-size="11.3" fill="#d4eeeb" font-weight="normal" text-anchor="start" textLength="45" lengthAdjust="spacingAndGlyphs">14:37:43</text>
<path d="M1423.8 348.2 H1396 a2 2 0 0 0 -2 2 V362.6 a2 2 0 0 0 2 2 H1423.8 Z" fill="#26a69a"/>
<text x="1398" y="360.5" font-size="11.3" fill="#fff" font-weight="bold" text-anchor="start" textLength="20" lengthAdjust="spacingAndGlyphs">DXY</text>
<path d="M1425.5 379.1 H1479 a2 2 0 0 1 2 2 V393.8 a2 2 0 0 1 -2 2 H1425.5 Z" fill="#000"/>
<text x="1433.6" y="391.6" font-size="11.3" fill="#fff" font-weight="bold" text-anchor="start" textLength="41" lengthAdjust="spacingAndGlyphs">104.699</text>
<path d="M1425.5 396.2 H1479 a2 2 0 0 1 2 2 V410.9 a2 2 0 0 1 -2 2 H1425.5 Z" fill="#f23645"/>
<text x="1433.6" y="408.7" font-size="11.3" fill="#fff" font-weight="bold" text-anchor="start" textLength="41" lengthAdjust="spacingAndGlyphs">104.345</text>
<path d="M1423.8 396.2 H1375 a2 2 0 0 0 -2 2 V410.9 a2 2 0 0 0 2 2 H1423.8 Z" fill="#f23645"/>
<text x="1377.8" y="408.7" font-size="11.3" fill="#fff" font-weight="bold" text-anchor="start" textLength="41" lengthAdjust="spacingAndGlyphs">SMA:MA</text>
<text x="81.5" y="846" font-size="11.3" fill="#50535e" font-weight="normal" text-anchor="middle">18</text>
<text x="172.2" y="846" font-size="11.3" fill="#50535e" font-weight="bold" text-anchor="middle">2024</text>
<text x="262.5" y="846" font-size="11.3" fill="#50535e" font-weight="normal" text-anchor="middle">15</text>
<text x="393.5" y="846" font-size="11.3" fill="#50535e" font-weight="normal" text-anchor="middle">Feb</text>
<text x="514" y="846" font-size="11.3" fill="#50535e" font-weight="normal" text-anchor="middle">19</text>
<text x="605" y="846" font-size="11.3" fill="#50535e" font-weight="normal" text-anchor="middle">Mar</text>
<text x="716" y="846" font-size="11.3" fill="#50535e" font-weight="normal" text-anchor="middle">18</text>
<text x="806.5" y="846" font-size="11.3" fill="#50535e" font-weight="normal" text-anchor="middle">Apr</text>
<text x="907.5" y="846" font-size="11.3" fill="#50535e" font-weight="normal" text-anchor="middle">15</text>
<text x="1028.5" y="846" font-size="11.3" fill="#50535e" font-weight="normal" text-anchor="middle">May</text>
<text x="1109" y="846" font-size="11.3" fill="#50535e" font-weight="normal" text-anchor="middle">13</text>
<text x="1260" y="846" font-size="11.3" fill="#50535e" font-weight="normal" text-anchor="middle">Jun</text>
<text x="1361" y="846" font-size="11.3" fill="#50535e" font-weight="normal" text-anchor="middle">17</text>
<g fill="#1e222d"><path d="M10 868.2 H18.2 V877.8 H13.95 V872.1 H10 Z"/><circle cx="20.8" cy="870.3" r="2"/><path d="M24.4 868.2 H29.6 L25.9 877.8 H21.1 Z"/></g>
<text x="33.4" y="877.8" font-size="12.8" fill="#2a2e39" font-weight="normal" text-anchor="start" textLength="69.6" lengthAdjust="spacingAndGlyphs">TradingView</text>
</svg>
<div class="wm wm1">海马财经</div>
<div class="wm wm2">zzrt01.cn</div>
<svg width="260" height="70" viewBox="1239 790 260 70" style="position:absolute;left:1239px;top:790px;will-change:transform">
<line x1="1239" y1="828.6" x2="1425.5" y2="828.6" stroke="#363a45" stroke-width="1.2" opacity="0.45"/>
<line x1="1425.5" y1="790" x2="1425.5" y2="856" stroke="#363a45" stroke-width="1.2" opacity="0.85"/>
<text x="1260" y="846" font-size="11.3" fill="#50535e" text-anchor="middle" opacity="0.6">Jun</text>
<text x="1361" y="846" font-size="11.3" fill="#50535e" text-anchor="middle" opacity="0.45">17</text>
<svg x="1340" y="800" width="85" height="28.2" viewBox="1340 800 85 28.2"><text x="1357.5" y="830.6" font-size="18.6" fill="#2196f3" opacity="0.6" textLength="57" lengthAdjust="spacingAndGlyphs">100.00</text></svg>
</svg>
</body></html>
